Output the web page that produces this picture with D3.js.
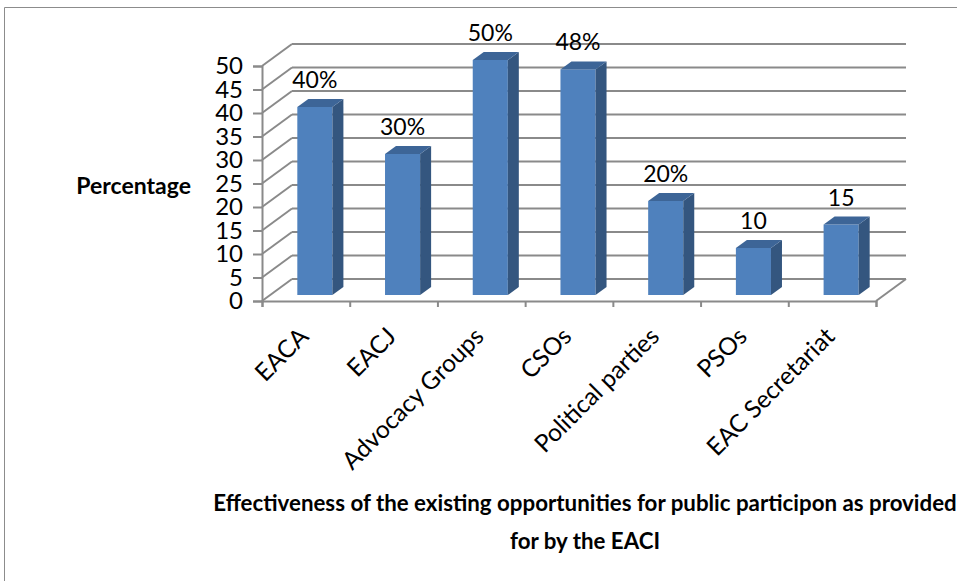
<!DOCTYPE html>
<html>
<head>
<meta charset="utf-8">
<script src="https://cdn.jsdelivr.net/npm/d3@7"></script>
<style>
  body { margin: 0; background: #fff; }
  text { font-family: Lato, "Open Sans", sans-serif; fill: #000; }
</style>
</head>
<body>
<div id="chart"></div>
<script>
var categories = ["EACA", "EACJ", "Advocacy Groups", "CSOs", "Political parties", "PSOs", "EAC Secretariat"];
var values = [40, 30, 50, 48, 20, 10, 15];
var valueLabels = ["40%", "30%", "50%", "48%", "20%", "10", "15"];
var yTicks = [0, 5, 10, 15, 20, 25, 30, 35, 40, 45, 50];

var width = 957, height = 581;
var plotLeft = 262, plotRight = 876, plotBottom = 301, plotTop = 66;
// depth of the 3d box (back wall offset) and of the bars
var wallDx = 30, wallDy = -22;
var barShiftX = 9, barShiftY = -6, barDx = 11, barDy = -8;
var gridColor = "#8a8a8a";

var svg = d3.select("#chart").append("svg")
    .attr("width", width)
    .attr("height", height);

// outer frame
svg.append("path")
    .attr("d", "M4.5," + height + "V7.5H" + width)
    .attr("fill", "none")
    .attr("stroke", "#8c8c8c")
    .attr("stroke-width", 1);

var x = d3.scaleBand().domain(categories).range([plotLeft, plotRight]).padding(0);
var y = d3.scaleLinear().domain([0, 50]).range([plotBottom, plotTop]);

// side wall gridlines
svg.selectAll("line.side").data(yTicks).enter().append("line")
    .attr("class", "side")
    .attr("x1", plotLeft).attr("y1", function(d) { return y(d); })
    .attr("x2", plotLeft + wallDx).attr("y2", function(d) { return y(d) + wallDy; })
    .attr("stroke", gridColor).attr("stroke-width", 2);

// back wall gridlines
svg.selectAll("line.back").data(yTicks).enter().append("line")
    .attr("class", "back")
    .attr("x1", plotLeft + wallDx).attr("y1", function(d) { return y(d) + wallDy; })
    .attr("x2", plotRight + wallDx).attr("y2", function(d) { return y(d) + wallDy; })
    .attr("stroke", gridColor).attr("stroke-width", 2);

// right edge of floor
svg.append("line")
    .attr("x1", plotRight).attr("y1", y(0))
    .attr("x2", plotRight + wallDx).attr("y2", y(0) + wallDy)
    .attr("stroke", gridColor).attr("stroke-width", 2);

// y axis
var yAxis = svg.append("g")
    .attr("transform", "translate(" + plotLeft + ",0)")
    .call(d3.axisLeft(y).tickValues(yTicks).tickSize(9).tickPadding(10));
yAxis.selectAll("path, line").attr("stroke", gridColor).attr("stroke-width", 2);
yAxis.selectAll("text").style("font-size", "24px").style("font-family", "Lato, sans-serif").attr("fill", "#000");

// x axis: ticks between categories
var xb = d3.scaleLinear().domain([0, categories.length]).range([plotLeft, plotRight]);
var xAxis = svg.append("g")
    .attr("transform", "translate(0," + y(0) + ")")
    .call(d3.axisBottom(xb).ticks(categories.length).tickSize(6).tickSizeOuter(6).tickFormat(""));
xAxis.selectAll("path, line").attr("stroke", gridColor).attr("stroke-width", 2);

// category labels
svg.selectAll("text.cat").data(categories).enter().append("text")
    .attr("class", "cat")
    .attr("text-anchor", "end")
    .attr("transform", function(d) {
        return "translate(" + (x(d) + x.bandwidth() / 2 + 4) + "," + 338 + ") rotate(-45)";
    })
    .style("font-size", "24.5px")
    .text(function(d) { return d; });

// bars
var bw = x.bandwidth() * 0.4;
var bars = svg.selectAll("g.bar").data(categories).enter().append("g").attr("class", "bar");

function x0(d) { return x(d) + x.bandwidth() * 0.3 + barShiftX; }
function yt(i) { return y(values[i]) + barShiftY; }
var yb = y(0) + barShiftY;

bars.append("rect")
    .attr("x", x0)
    .attr("y", function(d, i) { return yt(i); })
    .attr("width", bw)
    .attr("height", function(d, i) { return yb - yt(i); })
    .attr("fill", "#4f81bd");

bars.append("path")
    .attr("d", function(d, i) {
        var a = x0(d) + bw, t = yt(i);
        return "M" + a + "," + t + "L" + (a + barDx) + "," + (t + barDy) +
            "L" + (a + barDx) + "," + (yb + barDy) + "L" + a + "," + yb + "Z";
    })
    .attr("fill", "#34567f");

bars.append("path")
    .attr("d", function(d, i) {
        var a = x0(d), t = yt(i);
        return "M" + a + "," + t + "L" + (a + barDx) + "," + (t + barDy) +
            "L" + (a + bw + barDx) + "," + (t + barDy) + "L" + (a + bw) + "," + t + "Z";
    })
    .attr("fill", "#3d6597");

// value labels
svg.selectAll("text.val").data(categories).enter().append("text")
    .attr("class", "val")
    .attr("x", function(d) { return x0(d) + bw / 2; })
    .attr("y", function(d, i) { return yt(i) - 19; })
    .attr("text-anchor", "middle")
    .style("font-size", "23px")
    .text(function(d, i) { return valueLabels[i]; });

// y title
svg.append("text")
    .attr("x", 191).attr("y", 194)
    .attr("text-anchor", "end")
    .style("font-size", "23px")
    .style("font-weight", "bold")
    .text("Percentage");

// x title
svg.append("text")
    .attr("x", 585).attr("y", 511)
    .attr("text-anchor", "middle")
    .style("font-size", "22.3px")
    .style("font-weight", "bold")
    .text("Effectiveness of the existing opportunities for public participon as provided");
svg.append("text")
    .attr("x", 585).attr("y", 549)
    .attr("text-anchor", "middle")
    .style("font-size", "22.3px")
    .style("font-weight", "bold")
    .text("for by the EACI");
</script>
</body>
</html>
